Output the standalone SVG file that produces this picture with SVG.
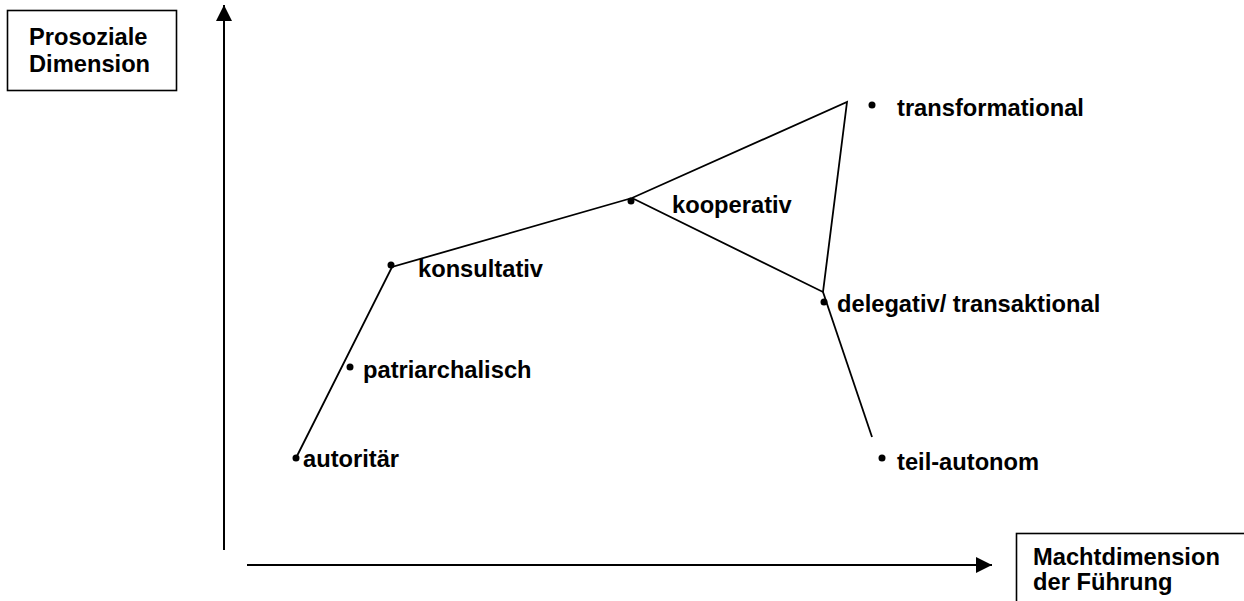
<svg xmlns="http://www.w3.org/2000/svg" width="1244" height="601" viewBox="0 0 1244 601">
<style>
.lbl{font-family:"Liberation Sans",Arial,sans-serif;font-weight:bold;font-size:23.7px;fill:#000}
.box{fill:#fff;stroke:#000;stroke-width:1.6}
.ln{stroke:#000;stroke-width:1.8;fill:none}
.ax{stroke:#000;stroke-width:2;fill:none}
.dot{fill:#000}
</style>
<defs>
<marker id="ah" viewBox="0 0 10 10" refX="10" refY="5" markerWidth="8" markerHeight="8" markerUnits="strokeWidth" orient="auto">
<path d="M0,0 L10,5 L0,10 Z" fill="#000"/>
</marker>
</defs>
<rect width="1244" height="601" fill="#fff"/>
<g id="connectors">
<line class="ax" x1="224" y1="550" x2="224" y2="5" marker-end="url(#ah)"/>
<line class="ax" x1="247" y1="565" x2="992" y2="565" marker-end="url(#ah)"/>
<polyline class="ln" points="297,456 392,267 632,198 847,102 823,292 632,198"/>
<line class="ln" x1="823" y1="292" x2="872" y2="437"/>
</g>
<g id="y-label"><rect class="box" x="7.5" y="10.5" width="169" height="80"/><text class="lbl" x="29" y="45">Prosoziale</text><text class="lbl" x="29" y="72">Dimension</text></g>
<g id="x-label"><rect class="box" x="1016.5" y="533.5" width="240" height="80"/><text class="lbl" x="1033" y="565">Machtdimension</text><text class="lbl" x="1033" y="590">der Führung</text></g>
<g id="autoritaer"><circle class="dot" cx="296" cy="458" r="3.5"/><text class="lbl" x="303" y="467">autoritär</text></g>
<g id="patriarchalisch"><circle class="dot" cx="350" cy="367" r="3.5"/><text class="lbl" x="363" y="378">patriarchalisch</text></g>
<g id="konsultativ"><circle class="dot" cx="391" cy="265" r="3.5"/><text class="lbl" x="418" y="277">konsultativ</text></g>
<g id="kooperativ"><circle class="dot" cx="631" cy="201" r="3.5"/><text class="lbl" x="672" y="213">kooperativ</text></g>
<g id="transformational"><circle class="dot" cx="872" cy="105" r="3.5"/><text class="lbl" x="897" y="116">transformational</text></g>
<g id="delegativ"><circle class="dot" cx="824" cy="302" r="3.5"/><text class="lbl" x="837" y="312">delegativ/ transaktional</text></g>
<g id="teil-autonom"><circle class="dot" cx="882" cy="458" r="3.5"/><text class="lbl" x="897" y="470">teil-autonom</text></g>
</svg>
